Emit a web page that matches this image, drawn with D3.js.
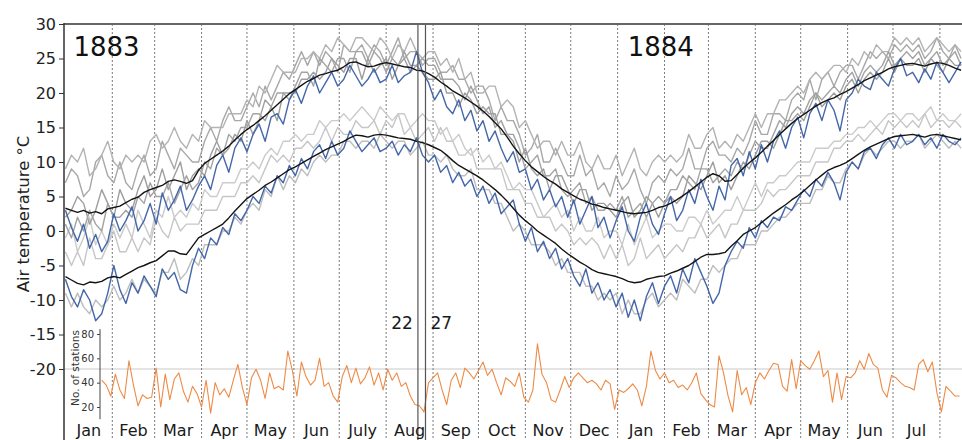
<!DOCTYPE html>
<html><head><meta charset="utf-8">
<script src="https://cdn.jsdelivr.net/npm/d3@7"></script>
<style>body{margin:0;background:#fff}svg{display:block}text{font-family:"DejaVu Sans",Verdana,sans-serif}</style>
</head><body><svg id="c" width="962" height="440"></svg>
<script>
// ---- data ----
const tempStartDay = 0, tempStep = 4;      // days since 1 Jan 1883
const countStartDay = 24, countStep = 3;

const upperMean = [3.3,3.0,2.7,3.0,2.6,2.8,2.5,3.2,3.4,3.6,
4.1,4.6,4.9,5.6,6.0,6.3,6.6,7.2,7.4,7.2,
6.9,7.3,8.8,9.8,10.4,11.0,11.6,12.3,13.2,14.0,
14.7,15.3,16.0,16.7,17.5,18.3,19.1,19.9,20.5,21.1,
21.7,22.1,22.6,22.8,23.1,23.3,23.8,24.4,24.5,24.1,
23.8,23.9,24.2,24.4,24.2,24.0,23.8,23.7,23.3,23.2,
22.8,22.3,21.6,21.0,20.3,19.8,19.3,18.7,18.1,17.4,
16.6,15.7,14.8,13.6,12.3,11.2,10.2,9.3,8.6,7.9,
7.3,6.8,6.1,5.6,5.1,4.6,4.3,3.9,3.7,3.4,
3.2,3.0,2.8,2.6,2.5,2.6,2.7,3.0,3.4,3.6,
4.0,4.5,5.1,5.7,6.4,7.1,7.8,8.3,8.0,7.2,
7.3,8.2,9.1,9.9,10.6,11.4,12.3,13.1,14.0,14.8,
15.6,16.3,16.9,17.5,18.1,18.6,19.0,19.3,19.8,20.2,
20.7,21.2,21.8,22.2,22.6,23.0,23.5,23.8,24.0,24.2,
24.3,24.1,23.9,24.2,24.4,24.3,24.0,23.6,23.3];

const lowerMean = [-6.6,-7.1,-7.6,-7.8,-7.4,-7.5,-7.3,-6.8,-6.6,-6.8,
-6.3,-5.8,-5.3,-5.0,-4.6,-4.3,-3.6,-2.9,-2.9,-3.3,
-3.4,-2.2,-1.0,-0.5,0.0,0.5,1.0,1.9,2.9,3.8,
4.7,5.3,5.9,6.6,7.1,7.7,8.3,8.9,9.3,9.8,
10.3,10.8,11.3,11.8,12.2,12.6,13.0,13.5,13.9,13.8,
13.6,13.9,14.0,13.9,13.7,13.5,13.4,13.3,13.0,12.8,
12.5,12.1,11.7,11.0,10.2,9.5,9.0,8.5,8.0,7.4,
6.7,6.0,5.2,4.3,3.3,2.3,1.5,0.8,0.0,-0.6,
-1.2,-1.8,-2.6,-3.3,-3.9,-4.5,-5.0,-5.6,-6.0,-6.2,
-6.4,-6.6,-6.9,-7.3,-7.5,-7.4,-7.0,-6.8,-6.6,-6.5,
-6.1,-5.8,-5.4,-5.0,-4.4,-3.8,-3.4,-3.4,-3.3,-3.1,
-2.2,-1.4,-0.5,0.0,0.5,1.2,1.9,2.6,3.2,3.8,
4.5,5.1,5.8,6.6,7.4,8.1,8.8,9.2,9.5,9.9,
10.5,11.1,11.7,12.2,12.6,13.0,13.4,13.7,13.8,13.9,
14.0,13.8,13.6,13.9,14.0,13.8,13.6,13.4,13.2];

const upperBlue = [3.0,0.5,-1.5,1.0,-2.5,-0.5,-3.0,-1.5,2.5,0.0,
1.5,3.5,0.0,1.5,4.0,1.0,5.5,3.0,4.5,6.5,
3.0,4.5,6.5,8.0,6.0,9.5,11.0,8.5,12.0,13.5,
11.5,14.0,15.5,13.0,16.5,17.0,15.5,19.0,20.5,18.5,
21.0,22.5,20.0,21.5,23.0,21.0,22.0,24.0,22.5,21.0,
22.0,23.5,21.5,22.0,24.0,21.5,22.5,23.0,26.0,23.0,
21.5,19.0,20.5,18.0,17.0,19.0,16.0,17.5,14.5,16.0,
13.0,14.5,12.0,10.0,11.5,8.5,9.0,6.0,7.5,4.5,
6.0,3.5,5.0,2.0,4.5,1.0,3.0,5.0,0.5,2.0,
-1.0,1.5,3.5,0.0,-1.5,2.0,4.0,1.0,-0.5,2.5,
5.0,1.5,3.0,6.0,4.0,7.5,5.0,3.0,6.5,4.5,
9.5,10.5,8.0,11.5,9.0,12.5,10.0,13.0,14.5,12.0,
15.0,16.5,13.5,17.0,18.5,16.0,19.0,17.5,14.5,19.0,
20.0,22.0,21.0,20.5,23.0,22.0,21.0,23.5,25.0,22.5,
23.0,21.5,23.5,22.0,24.5,23.0,21.5,23.0,24.5];

const lowerBlue = [-7.0,-9.5,-11.0,-8.5,-10.0,-13.0,-12.0,-9.0,-5.0,-8.5,
-10.5,-7.5,-9.0,-6.5,-8.0,-9.5,-5.5,-7.0,-6.0,-8.5,
-9.0,-5.0,-2.5,-4.0,-1.0,-2.0,0.5,-0.5,2.5,1.5,
3.0,5.0,4.0,6.5,5.5,8.0,7.0,9.5,8.0,10.5,
9.0,11.5,12.5,10.5,13.0,11.0,12.0,14.5,13.0,11.5,
12.5,13.5,11.5,12.0,13.0,11.0,12.5,11.5,13.5,11.0,
10.0,11.0,8.5,9.5,7.0,8.5,6.5,7.5,5.0,6.5,
4.0,5.5,2.5,3.5,4.5,1.0,-1.5,0.5,-3.0,-1.5,
-4.0,-2.5,-5.5,-4.0,-6.5,-8.0,-5.5,-9.0,-7.5,-10.0,
-8.5,-11.0,-9.0,-12.5,-10.0,-13.0,-9.5,-7.5,-10.5,-8.0,
-6.5,-9.0,-5.5,-7.5,-4.0,-6.0,-8.0,-10.5,-9.0,-5.0,
-3.0,-1.5,-2.5,0.5,-1.0,1.5,0.5,2.0,1.5,3.5,
3.0,4.5,6.0,5.0,7.5,6.5,8.5,7.0,4.5,8.5,
10.0,9.0,11.5,12.0,10.5,12.5,13.5,12.0,14.0,12.5,
13.0,14.0,12.5,13.5,12.0,14.0,13.0,12.5,13.5];

const upperGrayA = [7,9,8,5,6,10,11,8,7,10,
7,6,9,11,8,9,13,11,9,12,
11,10,10,13,15,13,16,18,16,16,
18,20,18,21,19,21,23,22,24,26,
24,26,24,26,25,23,27,26,26,27,
25,27,26,24,26,28,25,26,26,24,
25,25,23,23,24,22,22,20,21,21,
19,16,18,16,16,14,11,12,14,10,
10,12,10,8,8,11,8,9,6,7,
5,8,6,7,9,6,4,7,8,7,
9,8,9,12,9,9,12,13,11,11,
10,12,11,13,16,14,14,17,17,16,
19,20,19,22,19,22,23,21,23,24,
24,22,24,26,25,26,25,27,26,27,
26,27,25,26,28,26,25,27,25];

const upperGrayB = [2,3,5,4,1,3,6,4,2,6,
4,3,6,8,5,6,9,6,8,10,
6,8,9,8,11,13,11,12,14,13,
16,14,16,19,18,16,20,20,20,22,
22,23,22,23,25,24,23,25,25,22,
25,23,24,25,22,24,25,23,24,23,
22,22,23,20,20,18,20,19,17,18,
17,17,14,14,13,10,12,9,8,9,
6,8,8,6,4,6,6,3,4,4,
3,2,4,5,2,3,5,4,2,4,
5,4,5,8,7,6,8,10,7,8,
6,8,10,9,11,13,13,12,14,16,
16,17,16,18,20,18,19,20,19,21,
22,20,22,23,22,23,25,23,25,24,
24,25,23,25,24,23,25,24,24];

const upperGrayC = [9,11,10,12,8,9,11,13,10,9,
11,10,11,10,13,14,12,13,15,13,
12,14,13,16,15,15,15,17,17,17,
19,18,21,20,22,24,23,23,23,25,
25,26,25,27,26,28,27,26,28,28,
27,26,28,27,25,27,26,28,26,25,
26,26,24,25,23,25,22,23,20,20,
21,21,18,19,18,15,16,14,12,13,
13,11,13,11,11,13,10,9,11,9,
9,11,8,10,12,9,8,10,11,10,
11,10,11,14,12,12,14,15,12,13,
12,14,13,15,17,15,17,17,19,19,
20,21,20,22,23,22,23,24,24,23,
25,24,26,25,27,26,26,28,27,28,
27,28,26,27,28,27,26,27,26];

const upperGrayD = [1,-1,2,0,3,1,0,4,2,2,
3,2,5,4,7,5,5,7,4,6,
8,6,7,10,9,12,11,14,13,15,
15,17,17,16,18,20,20,19,21,23,
23,21,25,24,23,25,25,23,26,26,
24,26,25,23,25,24,26,24,24,25,
24,24,22,22,22,21,19,21,19,17,
18,15,16,14,14,12,9,10,11,8,
8,9,6,5,6,7,4,5,3,3,
4,3,5,2,3,4,2,4,5,4,
6,6,8,7,6,9,9,7,8,9,
8,10,9,11,13,12,12,14,16,15,
17,18,17,19,20,19,20,21,20,22,
23,21,23,24,23,24,26,24,25,26,
25,26,24,25,26,24,25,26,24];

const lowerGrayA = [-3,-5,-3,-5,-1,-4,-4,-2,0,-3,
-3,-1,-3,-1,-2,2,0,-1,2,0,
1,1,1,3,3,3,5,5,5,7,
7,8,7,9,11,10,11,10,12,12,
13,12,13,15,13,15,14,14,16,15,
15,16,14,16,15,17,14,15,13,14,
15,13,15,13,13,11,11,12,9,9,
9,9,9,6,6,6,4,4,2,2,
2,0,1,0,-2,-1,-2,-1,-2,-4,
-2,-4,-2,-5,-4,-1,-4,-3,-2,-4,
-3,-2,-3,-1,-1,1,-1,0,1,-1,
1,1,3,3,3,4,6,5,6,6,
7,8,8,8,10,10,10,12,12,13,
13,14,13,14,15,14,16,15,16,15,
16,15,17,15,16,16,15,16,15];

const lowerGrayB = [-9,-11,-9,-11,-12,-10,-11,-10,-8,-10,
-9,-7,-9,-7,-8,-9,-6,-6,-4,-7,
-6,-4,-5,-2,-2,-2,0,0,2,1,
3,4,3,6,5,8,6,8,7,9,
8,10,11,10,11,11,13,13,12,13,
13,12,14,13,12,13,13,11,12,13,
11,11,10,11,9,8,8,9,6,6,
6,4,4,2,0,1,0,-2,-2,-2,
-3,-5,-4,-6,-6,-6,-8,-8,-10,-9,
-10,-9,-12,-10,-12,-12,-10,-9,-11,-10,
-9,-10,-7,-8,-9,-7,-7,-5,-6,-5,
-4,-4,-2,-2,-2,0,0,1,2,2,
3,4,4,4,6,6,8,7,7,9,
10,9,11,12,11,12,13,13,12,13,
13,14,12,13,14,13,12,13,12];

const lowerGrayC = [-1,1,-3,-1,2,-2,0,-2,1,-1,
1,-1,3,1,-1,3,2,5,2,3,
2,4,3,6,5,5,7,7,7,9,
9,10,9,11,12,11,13,13,14,13,
14,14,16,15,16,16,17,16,17,18,
17,16,18,17,16,17,17,15,16,17,
16,16,14,15,13,14,12,11,12,10,
11,9,10,8,6,7,6,6,4,2,
3,4,2,3,0,2,0,0,2,-1,
0,0,-2,1,-2,0,2,-1,0,1,
1,0,0,2,2,1,3,1,2,3,
3,5,3,5,7,5,7,7,8,8,
9,10,10,10,12,12,12,13,13,14,
14,15,15,16,15,16,17,17,16,17,
17,16,17,18,16,17,16,16,17];

const stationCount = [42,38,29,47,34,27,58,38,21,30,
27,28,52,20,47,26,43,48,33,24,
37,31,20,42,15,40,30,35,28,42,
55,36,22,44,51,42,27,48,35,37,
34,66,50,29,57,45,38,42,60,37,
40,29,24,45,54,40,52,39,44,53,
38,48,34,51,42,48,37,40,29,22,
21,16,40,44,48,34,22,42,48,36,
52,48,43,50,57,46,51,40,30,44,
41,37,48,28,24,34,72,47,40,26,
24,34,45,36,44,48,44,40,42,39,
34,42,39,18,34,32,35,39,34,21,
37,66,50,43,48,40,42,36,38,34,
40,48,31,26,22,20,62,48,29,16,
50,30,36,22,40,48,43,50,56,55,
37,33,59,35,58,54,51,58,66,45,
50,24,48,26,45,44,48,58,51,64,
55,52,34,28,46,44,40,37,36,34,
55,59,49,57,32,16,37,33,29,29];

const monthLabels = ["Jan","Feb","Mar","Apr","May","Jun","July","Aug","Sep","Oct","Nov","Dec",
                     "Jan","Feb","Mar","Apr","May","Jun","Jul"];
const yTicks = [30,25,20,15,10,5,0,-5,-10,-15,-20];
const stationTicks = [80,60,40,20];
const yearLabels = [{label:"1883", year:1883}, {label:"1884", year:1884}];
const eventLabels = [{label:"22", month:7, day:22, side:"left"}, {label:"27", month:7, day:27, side:"right"}];
const yTitle = "Air temperature °C";
const insetTitle = "No. of stations";

// ---- drawing ----
const svg = d3.select("#c");
const W = 962, H = 440, PL = 64, PT = 24;
const dayDate = d => new Date(Date.UTC(1883, 0, 1 + d));
const x = d3.scaleUtc().domain([dayDate(0), dayDate(593)]).range([65.4, 962.6]);
const y = d3.scaleLinear().domain([-20, 30]).range([369, 24]);
const yS = d3.scaleLinear().domain([20, 80]).range([407, 334]);

svg.append("defs").append("clipPath").attr("id","clip")
  .append("rect").attr("x", PL).attr("y", PT).attr("width", W-PL).attr("height", H-PT);
const plot = svg.append("g").attr("clip-path","url(#clip)");

plot.append("line").attr("x1", PL).attr("x2", W).attr("y1", y(-20)).attr("y2", y(-20))
  .attr("stroke","#c9c9c9").attr("stroke-width",1);

const months = d3.utcMonths(dayDate(1), dayDate(593));
plot.selectAll("line.m").data(months).join("line").attr("class","m")
  .attr("x1", d=>x(d)).attr("x2", d=>x(d)).attr("y1", PT).attr("y2", H)
  .attr("stroke","#7a7a7a").attr("stroke-width",1).attr("stroke-dasharray","2,2");

const tLine = d3.line().x((d,i)=>x(dayDate(tempStartDay + i*tempStep))).y(d=>y(d));
const series = [
  {v: lowerGrayA, c:"#c6c6c6"}, {v: lowerGrayB, c:"#bdbdbd"}, {v: lowerGrayC, c:"#cbcbcb"},
  {v: upperGrayA, c:"#a8a8a8"}, {v: upperGrayB, c:"#9e9e9e"}, {v: upperGrayC, c:"#b3b3b3"},
  {v: upperGrayD, c:"#a3a3a3"},
  {v: upperBlue, c:"#4467aa"}, {v: lowerBlue, c:"#4467aa"},
  {v: upperMean, c:"#141414"}, {v: lowerMean, c:"#141414"}
];
plot.selectAll("path.t").data(series).join("path").attr("class","t")
  .attr("d", d=>tLine(d.v)).attr("fill","none").attr("stroke", d=>d.c)
  .attr("stroke-width", 1.4).attr("stroke-linejoin","round");

const sLine = d3.line().x((d,i)=>x(dayDate(countStartDay + i*countStep))).y(d=>yS(d));
plot.append("path").attr("d", sLine(stationCount)).attr("fill","none")
  .attr("stroke","#ee8a45").attr("stroke-width",1.1).attr("stroke-linejoin","round");

eventLabels.forEach(e => {
  const xe = x(new Date(Date.UTC(1883, e.month, e.day)));
  svg.append("line").attr("x1", xe).attr("x2", xe).attr("y1", PT).attr("y2", H)
    .attr("stroke","#555").attr("stroke-width",1.2);
  svg.append("text").attr("x", e.side==="left" ? xe-5 : xe+5).attr("y", 329)
    .attr("text-anchor", e.side==="left" ? "end" : "start")
    .attr("font-size", 17).attr("fill","#1a1a1a").text(e.label);
});

svg.append("line").attr("x1", PL).attr("x2", W).attr("y1", PT).attr("y2", PT)
  .attr("stroke","#666").attr("stroke-width",2);
svg.append("line").attr("x1", PL).attr("x2", PL).attr("y1", PT-1).attr("y2", H)
  .attr("stroke","#333").attr("stroke-width",1.5);

const ya = svg.append("g").attr("transform",`translate(${PL},0)`)
  .call(d3.axisLeft(y).tickValues(yTicks).tickSize(5).tickSizeOuter(0).tickFormat(d=>String(d)));
ya.select(".domain").remove();
ya.selectAll("line").attr("stroke","#333");
ya.selectAll("text").attr("font-size",16).attr("fill","#222").attr("font-family",'"DejaVu Sans",Verdana,sans-serif');

svg.append("text").attr("transform","translate(29,214) rotate(-90)").attr("text-anchor","middle")
  .attr("font-size",16.5).attr("fill","#222").text(yTitle);

const ia = svg.append("g").attr("transform","translate(100,0)")
  .call(d3.axisLeft(yS).tickValues(stationTicks).tickSize(3).tickSizeOuter(0));
ia.select(".domain").remove();
ia.append("line").attr("x1",0).attr("x2",0).attr("y1",yS(84)).attr("y2",yS(10))
  .attr("stroke","#444").attr("stroke-width",1);
ia.selectAll(".tick line").attr("stroke","#444");
ia.selectAll("text").attr("font-size",10).attr("fill","#333").attr("font-family",'"DejaVu Sans",Verdana,sans-serif');
svg.append("text").attr("transform","translate(79,368) rotate(-90)").attr("text-anchor","middle")
  .attr("font-size",10.5).attr("fill","#333").text(insetTitle);

yearLabels.forEach(yl => {
  svg.append("text").attr("x", x(new Date(Date.UTC(yl.year,0,1))) + (yl.year===1883 ? 8 : 10))
    .attr("y", 56).attr("font-size", 26).attr("fill","#111").text(yl.label);
});

const allMonths = d3.utcMonths(dayDate(0), dayDate(593));
svg.selectAll("text.ml").data(monthLabels).join("text").attr("class","ml")
  .attr("x", (d,i)=> (x(allMonths[i]) + x(d3.utcMonth.offset(allMonths[i],1)))/2)
  .attr("y", 436).attr("text-anchor","middle").attr("font-size",16).attr("fill","#1a1a1a")
  .text(d=>d);
</script></body></html>
